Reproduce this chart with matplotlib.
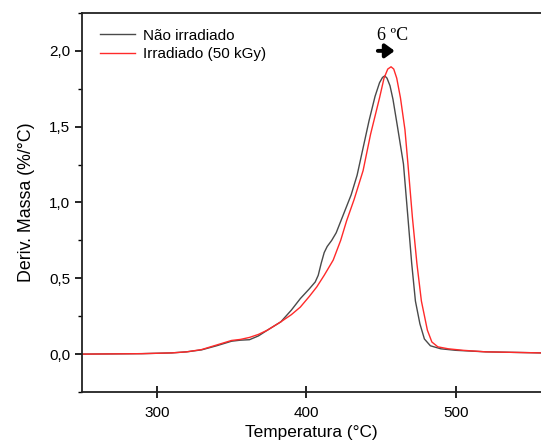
import matplotlib
matplotlib.use("Agg")
import matplotlib.pyplot as plt
from matplotlib.ticker import MultipleLocator, FuncFormatter

# temperature (°C) and derivative mass (%/°C)
temp_nao = [250, 290, 310, 320, 330, 340, 350, 356, 362, 368, 374, 383, 390, 396,
            402, 406, 408, 410, 412, 414, 417, 420, 425, 430, 434, 438, 442, 446, 449,
            451, 452.5, 454, 456, 458, 461, 465, 468, 470.5, 473, 476, 479, 483,
            490, 500, 520, 557]
deriv_nao = [0.0, 0.003, 0.008, 0.015, 0.028, 0.055, 0.085, 0.092, 0.095, 0.12, 0.158,
             0.213, 0.29, 0.366, 0.43, 0.476, 0.52, 0.6, 0.67, 0.71, 0.75, 0.8, 0.925,
             1.05, 1.18, 1.36, 1.54, 1.7, 1.79, 1.825, 1.835, 1.82, 1.77, 1.68, 1.5,
             1.254, 0.9, 0.6, 0.35, 0.2, 0.1, 0.055, 0.035, 0.025, 0.015, 0.008]

temp_irr = [250, 290, 310, 320, 330, 340, 350, 356, 362, 368, 374, 383, 390, 396,
            402, 407, 412, 418, 423, 427, 432, 438, 443, 449, 452, 454.5, 456.7,
            458.5, 460.5, 463, 466, 468, 471, 474, 477, 481, 484, 488, 495, 505,
            520, 557]
deriv_irr = [0.0, 0.003, 0.008, 0.015, 0.03, 0.06, 0.09, 0.097, 0.11, 0.13, 0.158,
             0.213, 0.26, 0.31, 0.38, 0.443, 0.52, 0.62, 0.75, 0.88, 1.02, 1.21, 1.45,
             1.69, 1.82, 1.88, 1.895, 1.88, 1.82, 1.69, 1.48, 1.254, 0.9, 0.597, 0.35,
             0.158, 0.08, 0.048, 0.035, 0.025, 0.015, 0.008]

labels = ["Não irradiado", "Irradiado (50 kGy)"]

plt.rcParams["font.family"] = ["Liberation Sans", "DejaVu Sans"]

fig = plt.figure(figsize=(5.41, 4.47), dpi=100)
ax = fig.add_axes([0.1516, 0.123, 0.8484, 0.848])

ax.plot(temp_nao, deriv_nao, color="#4a4a4a", lw=1.0, label=labels[0])
ax.plot(temp_irr, deriv_irr, color="#ff2a2a", lw=1.0, label=labels[1])

ax.set_xlim(250, 557)
ax.set_ylim(-0.25, 2.25)
ax.xaxis.set_major_locator(MultipleLocator(100))
ax.yaxis.set_major_locator(MultipleLocator(0.5))
ax.yaxis.set_minor_locator(MultipleLocator(0.25))
ax.yaxis.set_major_formatter(FuncFormatter(lambda v, p: f"{v:.1f}".replace(".", ",")))

ax.spines["right"].set_visible(False)
for s in ("left", "bottom", "top"):
    ax.spines[s].set_linewidth(1.3)
    ax.spines[s].set_color("#222222")
ax.tick_params(axis="x", direction="inout", length=8, width=1.2, labelsize=11, pad=6)
ax.tick_params(axis="y", which="major", direction="out", length=5, width=1.2, labelsize=11)
ax.tick_params(axis="y", which="minor", direction="out", length=3, width=1.0)

ax.set_xlabel("Temperatura (°C)", fontsize=12.4, labelpad=4)
ax.set_ylabel("Deriv. Massa (%/°C)", fontsize=12.8, labelpad=10)

ax.legend(loc="upper left", frameon=False, fontsize=11, handlelength=2.3,
          handletextpad=0.5, labelspacing=0.3, borderaxespad=0.5,
          bbox_to_anchor=(0.01, 0.995))

# peak shift annotation
ax.text(458, 2.1, "6 ºC", family="Liberation Serif", fontsize=13,
        ha="center", va="center")
ax.annotate("", xy=(461, 2.0), xytext=(446, 2.0),
            arrowprops=dict(arrowstyle="-|>,head_length=0.55,head_width=0.4",
                            color="black", lw=2.8))

fig.savefig("out.png", dpi=100)
